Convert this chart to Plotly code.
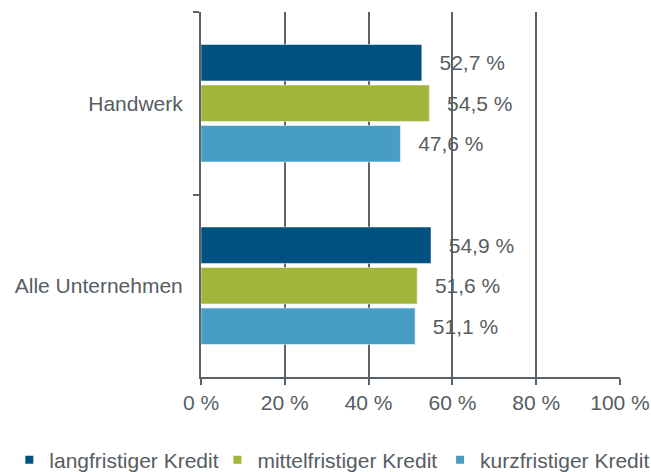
import plotly.graph_objects as go

categories = ["Handwerk", "Alle Unternehmen"]
series_names = ["langfristiger Kredit", "mittelfristiger Kredit", "kurzfristiger Kredit"]
langfristig = [52.7, 54.9]
mittelfristig = [54.5, 51.6]
kurzfristig = [47.6, 51.1]
x_ticks = [0, 20, 40, 60, 80, 100]
x_tick_labels = ["0 %", "20 %", "40 %", "60 %", "80 %", "100 %"]

colors = ["#00517f", "#a2b43b", "#489dc5"]
values = [langfristig, mittelfristig, kurzfristig]
text_color = "#555d63"
grid_color = "#5b6369"
FONT = "Liberation Sans, Arial, sans-serif"
FS = 21

fig = go.Figure()
for name, vals, col in zip(series_names, values, colors):
    fig.add_trace(go.Bar(
        y=categories, x=vals, orientation="h", name=name,
        marker=dict(color=col, line=dict(color="rgba(255,255,255,0.5)", width=1)),
        text=[f"{v:.1f} %".replace(".", ",") for v in vals],
        texttemplate="\u2002\u2009%{text}",
        textposition="outside", constraintext="none", cliponaxis=False,
        textfont=dict(size=FS, color=text_color, family=FONT),
        showlegend=False, hoverinfo="skip",
    ))

legend_ids = ["legend", "legend2", "legend3"]
legend_x = [0.0143, 0.334, 0.676]
for name, col, lid in zip(series_names, colors, legend_ids):
    fig.add_trace(go.Scatter(
        x=[None], y=[None], mode="markers", name=name, legend=lid,
        marker=dict(symbol="square", size=8, color=col),
    ))

legend_common = dict(orientation="h", xref="container", yref="container",
                     xanchor="left", y=0.025, yanchor="middle",
                     font=dict(size=FS, color=text_color, family=FONT),
                     itemwidth=30, bgcolor="rgba(0,0,0,0)")

layout_legends = {lid: dict(legend_common, x=lx) for lid, lx in zip(legend_ids, legend_x)}

fig.update_layout(
    width=651, height=472,
    margin=dict(l=201, r=31, t=12, b=95, autoexpand=False),
    paper_bgcolor="white", plot_bgcolor="white",
    barmode="group", bargap=0.334, bargroupgap=0.1,
    font=dict(family=FONT, size=FS, color=text_color),
    showlegend=True,
    xaxis=dict(range=[0, 100], tickvals=x_ticks, ticktext=x_tick_labels,
               showgrid=True, gridcolor=grid_color, gridwidth=2,
               showline=True, linecolor=grid_color, linewidth=2,
               ticks="outside", ticklen=6, tickwidth=2, tickcolor=grid_color,
               zeroline=False, automargin=False, tickfont=dict(size=FS, color=text_color)),
    yaxis=dict(categoryorder="array", categoryarray=categories, autorange="reversed",
               showline=True, linecolor=grid_color, linewidth=2,
               ticks="outside", ticklen=6, tickwidth=2, tickcolor=grid_color,
               tickson="boundaries", showgrid=False, ticklabelstandoff=12,
               automargin=False, tickfont=dict(size=FS, color=text_color)),
    **layout_legends,
)

fig.write_html("out.html", config={"displayModeBar": False},
               post_script="document.body.style.margin='0';document.body.style.overflow='hidden';")
